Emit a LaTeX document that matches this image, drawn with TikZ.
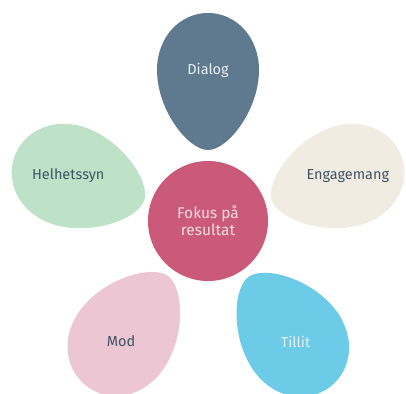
\documentclass[tikz,border=0pt]{standalone}
\usepackage{fontspec}
\setmainfont{Fira Sans}
\usetikzlibrary{positioning}
\definecolor{dialogblue}{HTML}{5F7A8F}
\definecolor{focuspink}{HTML}{CB5979}
\definecolor{wholegreen}{HTML}{BEE2C8}
\definecolor{engcream}{HTML}{F0ECE2}
\definecolor{courpink}{HTML}{ECC6D2}
\definecolor{trustblue}{HTML}{6CCBE6}
\definecolor{darktext}{HTML}{3F5464}
\definecolor{lighttext}{HTML}{E8EFF3}
\definecolor{pinktext}{HTML}{F6DDE4}

\tikzset{petal/.pic={
  \fill[pic actions] (0,-80) .. controls (20,-80) and (51,-40) .. (51,0)
    .. controls (51,33) and (28,57) .. (0,57)
    .. controls (-28,57) and (-51,33) .. (-51,0)
    .. controls (-51,-40) and (-20,-80) .. (0,-80) -- cycle;
}}

\begin{document}
\begin{tikzpicture}[x=0.025cm,y=0.025cm]
\tikzstyle{petaltext}=[font=\fontsize{10.3}{12}\selectfont, inner sep=1pt]
\tikzstyle{hub}=[circle, fill=focuspink, minimum size=3cm, align=center,
  text=pinktext, font=\fontsize{11}{12}\selectfont]

\useasboundingbox (0,0) rectangle (406,393);
\clip (0,0) rectangle (406,393);
\begin{scope}[shift={(208,172)}]
\foreach \n/\a/\r/\c/\tc/\t in {dialog/90/151/dialogblue/lighttext/Dialog,
    whole/162/147/wholegreen/darktext/Helhetssyn,
    courage/234/148/courpink/darktext/Mod,
    trust/306/149/trustblue/lighttext/Tillit,
    engage/18/147/engcream/darktext/Engagemang}{
  \pic[fill=\c, rotate=\a-90] at (\a:\r) {petal};
  \node[petaltext, text=\tc] (\n) at (\a:\r) {\t};
}
\node[hub] (focus) at (0,0) {Fokus på\\resultat};
\end{scope}
\end{tikzpicture}
\end{document}
